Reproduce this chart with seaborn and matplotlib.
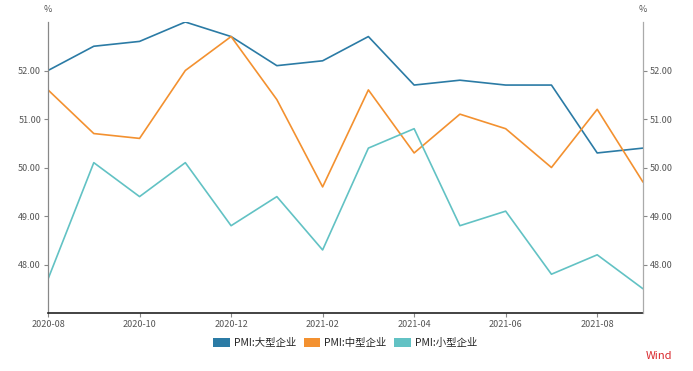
import pandas as pd
import numpy as np
import matplotlib.pyplot as plt
import seaborn as sns
from matplotlib.patches import Patch

# =========================
# DATA
# =========================
months = ["2020-08", "2020-09", "2020-10", "2020-11", "2020-12", "2021-01", "2021-02",
          "2021-03", "2021-04", "2021-05", "2021-06", "2021-07", "2021-08", "2021-09"]

pmi_large = [52.0, 52.5, 52.6, 53.0, 52.7, 52.1, 52.2, 52.7, 51.7, 51.8, 51.7, 51.7, 50.3, 50.4]
pmi_medium = [51.6, 50.7, 50.6, 52.0, 52.7, 51.4, 49.6, 51.6, 50.3, 51.1, 50.8, 50.0, 51.2, 49.7]
pmi_small = [47.7, 50.1, 49.4, 50.1, 48.8, 49.4, 48.3, 50.4, 50.8, 48.8, 49.1, 47.8, 48.2, 47.5]

series_names = ["PMI:大型企业", "PMI:中型企业", "PMI:小型企业"]
colors = ["#2b7ba5", "#f39130", "#62c2c4"]

y_ticks = [48, 49, 50, 51, 52]
x_tick_labels = months[::2]

df = pd.DataFrame({
    "idx": list(range(len(months))) * 3,
    "value": pmi_large + pmi_medium + pmi_small,
    "series": [n for n in series_names for _ in months],
})

# =========================
# PLOT
# =========================
sns.set_style("white")
plt.rcParams['font.family'] = ['Noto Sans CJK SC', 'DejaVu Sans']

fig = plt.figure(figsize=(6.93, 3.71), dpi=100)
ax = fig.add_axes([0.0693, 0.1563, 0.8585, 0.7844])

sns.lineplot(data=df, x="idx", y="value", hue="series", palette=colors,
             hue_order=series_names, linewidth=1.2, ax=ax, legend=False)

ax.set_xlim(0, len(months) - 1)
ax.set_ylim(47, 53)
ax.set_xlabel("")
ax.set_ylabel("")

ax.set_xticks(range(0, len(months), 2))
ax.set_xticklabels(x_tick_labels, fontsize=6.5, color="#555555")
ax.set_yticks(y_ticks)
ax.set_yticklabels([f"{v:.2f}" for v in y_ticks], fontsize=6.5, color="#555555")
ax.tick_params(axis="both", length=3, width=0.8, color="#888888", pad=2, direction="out",
               bottom=True, left=True)

for s in ["top", "right"]:
    ax.spines[s].set_visible(False)
ax.spines["left"].set_color("#888888")
ax.spines["left"].set_linewidth(0.9)
ax.spines["bottom"].set_color("#222222")
ax.spines["bottom"].set_linewidth(1.2)

ax2 = ax.twinx()
ax2.set_ylim(47, 53)
ax2.set_yticks(y_ticks)
ax2.set_yticklabels([f"{v:.2f}" for v in y_ticks], fontsize=6.5, color="#555555")
ax2.tick_params(axis="y", length=3, width=0.8, color="#888888", pad=2, right=True)
for s in ["top", "left", "bottom"]:
    ax2.spines[s].set_visible(False)
ax2.spines["right"].set_color("#aaaaaa")
ax2.spines["right"].set_linewidth(0.9)

fig.text(48 / 693, 1 - 10 / 371, "%", fontsize=6.5, color="#555555", ha="center", va="center")
fig.text(643 / 693, 1 - 10 / 371, "%", fontsize=6.5, color="#555555", ha="center", va="center")

handles = [Patch(facecolor=c, edgecolor="none") for c in colors]
fig.legend(handles, series_names, loc="center", bbox_to_anchor=(0.498, 0.075), ncol=3,
           frameon=False, fontsize=7.5, handlelength=1.6, handleheight=1.0,
           columnspacing=0.7, handletextpad=0.4)

fig.text(659 / 693, 1 - 356 / 371, "Wind", fontsize=8, color="#d9282d", ha="center", va="center")

plt.savefig("out.png", dpi=100)
